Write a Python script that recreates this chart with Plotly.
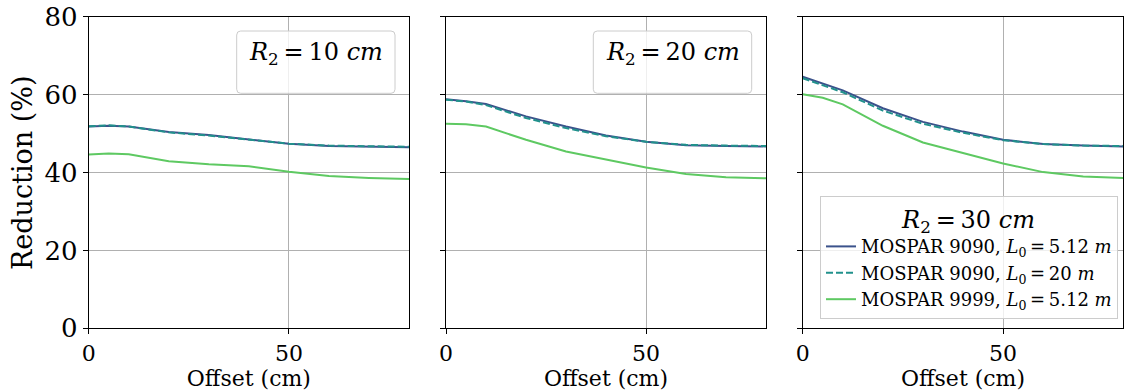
import plotly.graph_objects as go

offset = [0, 5, 10, 20, 30, 40, 50, 60, 70, 80]

r10_9090_512 = [51.8, 52.0, 51.8, 50.4, 49.6, 48.5, 47.4, 46.8, 46.6, 46.5]
r10_9090_20 = [51.9, 52.1, 51.8, 50.3, 49.5, 48.4, 47.4, 46.9, 46.7, 46.6]
r10_9999_512 = [44.6, 44.9, 44.7, 42.9, 42.1, 41.6, 40.2, 39.1, 38.6, 38.3]

r20_9090_512 = [58.8, 58.3, 57.6, 54.4, 51.8, 49.5, 47.9, 47.0, 46.8, 46.7]
r20_9090_20 = [58.7, 58.2, 57.3, 54.0, 51.4, 49.3, 47.9, 47.1, 46.9, 46.8]
r20_9999_512 = [52.5, 52.4, 51.8, 48.4, 45.4, 43.3, 41.3, 39.6, 38.8, 38.5]

r30_9090_512 = [64.6, 62.9, 61.1, 56.5, 53.0, 50.5, 48.4, 47.3, 46.9, 46.7]
r30_9090_20 = [64.2, 62.5, 60.6, 55.9, 52.5, 50.2, 48.3, 47.3, 46.9, 46.8]
r30_9999_512 = [60.1, 59.2, 57.5, 52.0, 47.7, 44.9, 42.3, 40.1, 39.0, 38.6]

panels = [
    ("10", r10_9090_512, r10_9090_20, r10_9999_512),
    ("20", r20_9090_512, r20_9090_20, r20_9999_512),
    ("30", r30_9090_512, r30_9090_20, r30_9999_512),
]
TS = "\u2009"
series_names = [
    f"MOSPAR 9090, <i>L</i><sub>0</sub>{TS}={TS}5.12 <i>m</i>",
    f"MOSPAR 9090, <i>L</i><sub>0</sub>{TS}={TS}20 <i>m</i>",
    f"MOSPAR 9999, <i>L</i><sub>0</sub>{TS}={TS}5.12 <i>m</i>",
]
colors = ["#3b528b", "#21918c", "#5ec962"]
dashes = ["solid", "7px,3px", "solid"]

# body margin is removed by post_script, so figure fills the window
PAD = 0
W, H = 1125 - PAD, 392 - PAD
FONT = "DejaVu Serif"


def fx(x):
    return (x - PAD) / W


def fy(y):
    return 1 - (y - PAD) / H


xdom_px = [(88.7, 409.0), (446.0, 766.0), (802.7, 1123.3)]
ytop_px, ybot_px = 16.7, 328.3
ydom = [fy(ybot_px), fy(ytop_px)]

fig = go.Figure()
for i, (r2, a, b, c) in enumerate(panels):
    xa = "x" if i == 0 else f"x{i+1}"
    ya = "y" if i == 0 else f"y{i+1}"
    for j, vals in enumerate([a, b, c]):
        fig.add_trace(go.Scatter(
            x=offset, y=vals, mode="lines", xaxis=xa, yaxis=ya,
            name=series_names[j], showlegend=(i == 2),
            line=dict(color=colors[j], width=2, dash=dashes[j]),
        ))

axis_common = dict(
    showline=True, mirror=True, linecolor="black", linewidth=1,
    ticks="outside", ticklen=5, tickcolor="black", tickwidth=1,
    showgrid=True, gridcolor="#b0b0b0", gridwidth=1, zeroline=False,
    automargin=False, ticklabeloverflow="allow",
)
layout = dict(
    width=W, height=H, margin=dict(l=0, r=0, t=0, b=0, autoexpand=False),
    paper_bgcolor="white", plot_bgcolor="white",
    font=dict(family=FONT, color="black"),
)
for i in range(3):
    sx = "" if i == 0 else str(i + 1)
    x0, x1 = xdom_px[i]
    layout[f"xaxis{sx}"] = dict(
        axis_common, domain=[fx(x0), min(fx(x1), 1.0)], range=[0, 80],
        tickvals=[0, 50], tickfont=dict(size=22, family=FONT),
        anchor=f"y{sx}",
        title=dict(text="Offset (cm)", font=dict(size=22, family=FONT), standoff=2),
    )
    layout[f"yaxis{sx}"] = dict(
        axis_common, domain=ydom, range=[0, 80],
        tickvals=[0, 20, 40, 60, 80], showticklabels=(i == 0),
        tickfont=dict(size=26, family=FONT),
        anchor=f"x{sx}",
    )
fig.update_layout(**layout)

# y-axis label
fig.add_annotation(
    text="Reduction (%)", xref="paper", yref="paper",
    x=fx(22), y=fy(173), showarrow=False, textangle=-90,
    font=dict(size=27, family=FONT), xanchor="center", yanchor="middle",
)


def rounded_box(x0, y0, x1, y1, r=4):
    # window pixel coords -> paper path with rounded corners
    return (f"M {fx(x0 + r)},{fy(y0)} L {fx(x1 - r)},{fy(y0)} "
            f"Q {fx(x1)},{fy(y0)} {fx(x1)},{fy(y0 + r)} "
            f"L {fx(x1)},{fy(y1 - r)} Q {fx(x1)},{fy(y1)} {fx(x1 - r)},{fy(y1)} "
            f"L {fx(x0 + r)},{fy(y1)} Q {fx(x0)},{fy(y1)} {fx(x0)},{fy(y1 - r)} "
            f"L {fx(x0)},{fy(y0 + r)} Q {fx(x0)},{fy(y0)} {fx(x0 + r)},{fy(y0)} Z")


boxes = [(236.7, 31.0, 395.0, 93.3), (593.3, 31.0, 751.7, 93.3)]
for k, (bx0, by0, bx1, by1) in enumerate(boxes):
    fig.add_shape(
        type="path", path=rounded_box(bx0, by0, bx1, by1), xref="paper", yref="paper",
        line=dict(color="#cccccc", width=1), fillcolor="rgba(255,255,255,0.8)", layer="above",
    )
    fig.add_annotation(
        text=f"<i>R</i><sub>2</sub>{TS}={TS}{panels[k][0]} <i>cm</i>",
        xref="paper", yref="paper", x=fx((bx0 + bx1) / 2), y=fy(53),
        showarrow=False, font=dict(size=24, family=FONT), xanchor="center", yanchor="middle",
    )

fig.update_layout(
    legend=dict(
        x=fx(1118), y=fy(319), xanchor="right", yanchor="bottom",
        bgcolor="rgba(255,255,255,0.8)", bordercolor="#cccccc", borderwidth=1,
        font=dict(size=18, family=FONT),
        title=dict(text=f"<i>R</i><sub>2</sub>{TS}={TS}{panels[2][0]} <i>cm</i>",
                   side="top center", font=dict(size=24, family=FONT)),
        tracegroupgap=0,
    )
)

fig.write_html(
    "out.html",
    config={"displayModeBar": False},
    post_script="document.body.style.margin='0';document.body.style.overflow='hidden';",
)
